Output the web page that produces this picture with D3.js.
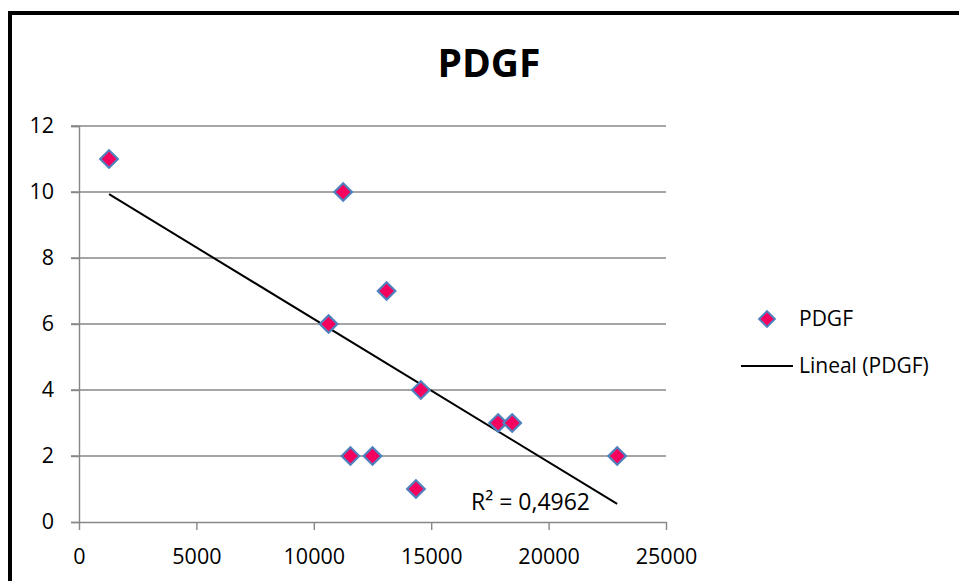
<!DOCTYPE html>
<html>
<head>
<meta charset="utf-8">
<script src="https://cdn.jsdelivr.net/npm/d3@7"></script>
<style>
  html, body { margin: 0; padding: 0; background: #fff; }
  svg { display: block; font-family: "Open Sans", "Liberation Sans", sans-serif; }
</style>
</head>
<body>
<svg id="chart" width="959" height="581"></svg>
<script>
// PDGF observations
const xValues = [1280, 11250, 13100, 10630, 14560, 17850, 18450, 11560, 12500, 22920, 14350];
const yValues = [11, 10, 7, 6, 4, 3, 3, 2, 2, 2, 1];
const xTicks = [0, 5000, 10000, 15000, 20000, 25000];
const yTicks = [0, 2, 4, 6, 8, 10, 12];
const seriesName = "PDGF";
const trendName = "Lineal (PDGF)";
const r2Label = "R² = 0,4962";

const svg = d3.select("#chart");

// outer chart frame
svg.append("rect")
  .attr("x", 10).attr("y", 13)
  .attr("width", 1000).attr("height", 700)
  .attr("fill", "#fff").attr("stroke", "#000").attr("stroke-width", 4);

const plot = { left: 79, right: 666, top: 126, bottom: 522 };
const x = d3.scaleLinear().domain([0, 25000]).range([plot.left, plot.right]);
const y = d3.scaleLinear().domain([0, 12]).range([plot.bottom, plot.top]);

// title
svg.append("text")
  .attr("x", 489).attr("y", 77)
  .attr("text-anchor", "middle")
  .attr("font-size", 39).attr("font-weight", "bold")
  .text(seriesName);

// horizontal gridlines (with left tick extension)
svg.append("g")
  .selectAll("line")
  .data(yTicks.filter(d => d > 0))
  .join("line")
  .attr("x1", plot.left - 8).attr("x2", plot.right)
  .attr("y1", d => y(d)).attr("y2", d => y(d))
  .attr("stroke", "#878787").attr("stroke-width", 1.4);

// y axis
const yAxis = svg.append("g")
  .attr("transform", `translate(${plot.left},0)`)
  .call(d3.axisLeft(y).tickValues(yTicks).tickSize(8).tickPadding(17).tickFormat(d3.format("d")));
yAxis.select(".domain").attr("stroke", "#878787").attr("stroke-width", 1.4);
yAxis.selectAll(".tick line").attr("stroke", "#878787").attr("stroke-width", 1.4);
yAxis.selectAll("text").attr("font-size", 21.5).attr("fill", "#000")
  .attr("font-family", "'Open Sans', sans-serif");

// x axis
const xAxis = svg.append("g")
  .attr("transform", `translate(0,${plot.bottom})`)
  .call(d3.axisBottom(x).tickValues(xTicks).tickSize(8).tickSizeOuter(0).tickPadding(19).tickFormat(d3.format("d")));
xAxis.select(".domain").attr("stroke", "#878787").attr("stroke-width", 1.4);
xAxis.selectAll(".tick line").attr("stroke", "#878787").attr("stroke-width", 1.4);
xAxis.selectAll("text").attr("font-size", 21.5).attr("fill", "#000")
  .attr("font-family", "'Open Sans', sans-serif");

// least-squares trend line over the data range
const pts = xValues.map((v, i) => [v, yValues[i]]);
const mx = d3.mean(xValues), my = d3.mean(yValues);
const sxy = d3.sum(pts, p => (p[0] - mx) * (p[1] - my));
const sxx = d3.sum(pts, p => (p[0] - mx) ** 2);
const slope = sxy / sxx;
const intercept = my - slope * mx;
const [xmin, xmax] = d3.extent(xValues);
const fit = v => intercept + slope * v;

svg.append("line")
  .attr("x1", x(xmin)).attr("y1", y(fit(xmin)))
  .attr("x2", x(xmax)).attr("y2", y(fit(xmax)))
  .attr("stroke", "#000").attr("stroke-width", 2);

// diamond markers
const diamond = d3.symbol().type(d3.symbolSquare).size(155);
svg.append("g")
  .selectAll("path")
  .data(pts)
  .join("path")
  .attr("d", diamond)
  .attr("transform", p => `translate(${x(p[0])},${y(p[1])}) rotate(45)`)
  .attr("fill", "#F5005F")
  .attr("stroke", "#4F81BD").attr("stroke-width", 2.2);

// R² label
svg.append("text")
  .attr("x", 471).attr("y", 510)
  .attr("font-size", 23)
  .text(r2Label);

// legend
const legend = svg.append("g");
legend.append("path")
  .attr("d", d3.symbol().type(d3.symbolSquare).size(125))
  .attr("transform", "translate(767,319) rotate(45)")
  .attr("fill", "#F5005F")
  .attr("stroke", "#4F81BD").attr("stroke-width", 2);
legend.append("text")
  .attr("x", 799).attr("y", 326)
  .attr("font-size", 21)
  .text(seriesName);
legend.append("line")
  .attr("x1", 741).attr("x2", 793)
  .attr("y1", 366).attr("y2", 366)
  .attr("stroke", "#000").attr("stroke-width", 2);
legend.append("text")
  .attr("x", 799).attr("y", 373)
  .attr("font-size", 21)
  .text(trendName);
</script>
</body>
</html>
